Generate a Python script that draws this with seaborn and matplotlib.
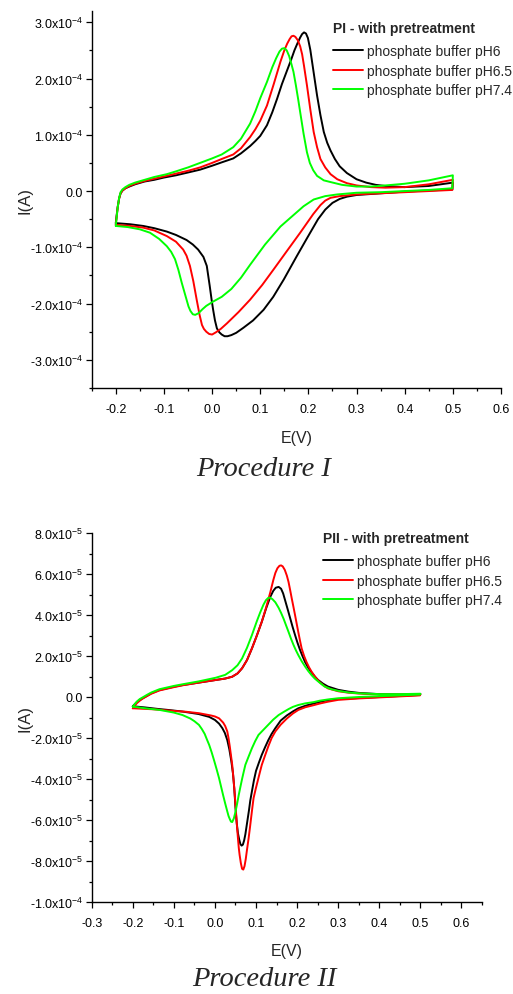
import numpy as np
import pandas as pd
import matplotlib
matplotlib.use("Agg")
import matplotlib.pyplot as plt
from matplotlib.ticker import FixedLocator, FixedFormatter, MultipleLocator
import seaborn as sns

# ---------------------------------------------------------------- data
BUFFERS = ["phosphate buffer pH6", "phosphate buffer pH6.5", "phosphate buffer pH7.4"]
COLORS = ["#000000", "#ff0000", "#00ff00"]

# Procedure I, current in units of 1e-4 A (forward scan -0.2 -> 0.5 V, then reverse)
p1_ph6_fwd_E = [-0.200, -0.198, -0.196, -0.193, -0.190, -0.186, -0.180, -0.172, -0.160, -0.140,
                -0.120, -0.100, -0.075, -0.050, -0.025, 0.000, 0.020, 0.044, 0.060, 0.079, 0.090,
                0.100, 0.114, 0.125, 0.135, 0.145, 0.156, 0.164, 0.171, 0.177, 0.183, 0.187, 0.191,
                0.195, 0.199, 0.204, 0.209, 0.214, 0.218, 0.225, 0.232, 0.239, 0.246, 0.255, 0.265,
                0.280, 0.300, 0.320, 0.340, 0.360, 0.400, 0.450, 0.500]
p1_ph6_fwd_I = [-0.57, -0.42, -0.28, -0.13, -0.04, 0.01, 0.05, 0.08, 0.12, 0.17,
                0.20, 0.24, 0.28, 0.33, 0.38, 0.45, 0.51, 0.58, 0.67, 0.80, 0.89,
                0.98, 1.17, 1.40, 1.64, 1.90, 2.15, 2.33, 2.50, 2.62, 2.73, 2.79, 2.82,
                2.80, 2.72, 2.51, 2.22, 1.93, 1.70, 1.35, 1.05, 0.86, 0.72, 0.57, 0.44,
                0.32, 0.21, 0.15, 0.11, 0.09, 0.07, 0.09, 0.15]
p1_ph6_rev_E = [0.499, 0.450, 0.400, 0.350, 0.300, 0.280, 0.265, 0.250, 0.235, 0.220, 0.197, 0.175,
                0.149, 0.127, 0.107, 0.085, 0.065, 0.050, 0.040, 0.032, 0.026, 0.020, 0.015, 0.010,
                0.006, 0.002, -0.001, -0.005, -0.011, -0.018, -0.029, -0.040, -0.053, -0.075, -0.094,
                -0.120, -0.143, -0.170, -0.200]
p1_ph6_rev_I = [0.03, 0.01, -0.01, -0.04, -0.07, -0.10, -0.14, -0.21, -0.33, -0.50, -0.84, -1.17,
                -1.57, -1.88, -2.11, -2.30, -2.43, -2.52, -2.56, -2.58, -2.58, -2.55, -2.51, -2.44,
                -2.30, -2.10, -1.93, -1.68, -1.33, -1.17, -1.04, -0.95, -0.87, -0.78, -0.72,
                -0.66, -0.62, -0.59, -0.57]

p1_ph65_fwd_E = [-0.200, -0.198, -0.196, -0.193, -0.190, -0.186, -0.180, -0.172, -0.160, -0.140,
                 -0.120, -0.100, -0.075, -0.050, -0.025, 0.000, 0.020, 0.044, 0.060, 0.079, 0.090,
                 0.100, 0.114, 0.128, 0.142, 0.150, 0.156, 0.161, 0.165, 0.169, 0.173, 0.178, 0.183,
                 0.187, 0.191, 0.197, 0.204, 0.211, 0.218, 0.225, 0.235, 0.246, 0.260, 0.280, 0.300,
                 0.330, 0.360, 0.400, 0.450, 0.500]
p1_ph65_fwd_I = [-0.60, -0.44, -0.29, -0.13, -0.04, 0.01, 0.05, 0.09, 0.13, 0.18,
                 0.22, 0.26, 0.31, 0.36, 0.42, 0.50, 0.57, 0.65, 0.76, 0.96, 1.10,
                 1.25, 1.52, 1.90, 2.30, 2.50, 2.62, 2.70, 2.75, 2.76, 2.74, 2.68, 2.57,
                 2.43, 2.22, 1.88, 1.45, 1.05, 0.78, 0.57, 0.42, 0.30, 0.21, 0.14, 0.10,
                 0.07, 0.06, 0.07, 0.12, 0.20]
p1_ph65_rev_E = [0.499, 0.450, 0.400, 0.350, 0.300, 0.265, 0.246, 0.235, 0.225, 0.210, 0.183, 0.155,
                 0.128, 0.104, 0.079, 0.055, 0.031, 0.018, 0.008, 0.000, -0.006, -0.012, -0.017,
                 -0.021, -0.026, -0.032, -0.039, -0.046, -0.053, -0.060, -0.075, -0.094, -0.120,
                 -0.143, -0.170, -0.200]
p1_ph65_rev_I = [0.02, 0.00, -0.02, -0.04, -0.06, -0.09, -0.12, -0.17, -0.25, -0.41, -0.74, -1.07,
                 -1.39, -1.67, -1.93, -2.15, -2.35, -2.45, -2.51, -2.55, -2.54, -2.50, -2.45,
                 -2.38, -2.20, -1.93, -1.60, -1.33, -1.15, -1.04, -0.90, -0.80, -0.70,
                 -0.65, -0.62, -0.60]

p1_ph74_fwd_E = [-0.200, -0.198, -0.196, -0.193, -0.190, -0.186, -0.180, -0.172, -0.160, -0.140,
                 -0.120, -0.094, -0.075, -0.050, -0.025, 0.000, 0.020, 0.044, 0.060, 0.079, 0.090,
                 0.100, 0.114, 0.125, 0.133, 0.140, 0.145, 0.150, 0.155, 0.160, 0.165, 0.169, 0.174,
                 0.179, 0.183, 0.190, 0.197, 0.203, 0.210, 0.218, 0.232, 0.246, 0.270, 0.300, 0.330,
                 0.360, 0.400, 0.450, 0.500]
p1_ph74_fwd_I = [-0.62, -0.45, -0.29, -0.12, -0.02, 0.03, 0.07, 0.11, 0.15, 0.20,
                 0.25, 0.30, 0.35, 0.42, 0.50, 0.58, 0.65, 0.78, 0.93, 1.20, 1.42,
                 1.65, 1.94, 2.20, 2.36, 2.48, 2.53, 2.54, 2.50, 2.40, 2.25, 2.12, 1.88,
                 1.62, 1.40, 1.02, 0.69, 0.50, 0.37, 0.27, 0.19, 0.16, 0.11, 0.08, 0.08,
                 0.10, 0.13, 0.19, 0.28]
p1_ph74_rev_E = [0.499, 0.450, 0.400, 0.350, 0.300, 0.260, 0.235, 0.211, 0.190, 0.170, 0.142, 0.110,
                 0.079, 0.060, 0.040, 0.020, 0.003, -0.012, -0.020, -0.028, -0.035, -0.040, -0.045,
                 -0.049, -0.055, -0.063, -0.070, -0.077, -0.085, -0.094, -0.110, -0.129, -0.150,
                 -0.175, -0.200]
p1_ph74_rev_I = [0.05, 0.02, 0.00, -0.02, -0.03, -0.06, -0.09, -0.15, -0.27, -0.42, -0.63, -0.95,
                 -1.31, -1.54, -1.74, -1.88, -1.96, -2.04, -2.10, -2.17, -2.20, -2.19, -2.13,
                 -2.05, -1.87, -1.63, -1.40, -1.21, -1.08, -0.98, -0.85, -0.74, -0.68,
                 -0.64, -0.62]

# Procedure II, current in units of 1e-5 A
p2_ph6_fwd_E = [-0.200, -0.195, -0.190, -0.183, -0.176, -0.165, -0.155, -0.135, -0.100, -0.079,
                -0.040, 0.002, 0.025, 0.042, 0.055, 0.066, 0.078, 0.090, 0.102, 0.114, 0.125, 0.135,
                0.142, 0.148, 0.155, 0.161, 0.166, 0.171, 0.177, 0.183, 0.189, 0.195, 0.201, 0.207,
                0.213, 0.219, 0.227, 0.235, 0.243, 0.251, 0.263, 0.275, 0.300, 0.325, 0.350, 0.400,
                0.450, 0.500]
p2_ph6_fwd_I = [-0.45, -0.35, -0.25, -0.14, -0.06, 0.06, 0.18, 0.34, 0.50, 0.58,
                0.70, 0.83, 0.90, 0.99, 1.15, 1.40, 1.80, 2.37, 3.00, 3.67, 4.35, 4.90,
                5.18, 5.33, 5.37, 5.28, 5.05, 4.70, 4.28, 3.85, 3.42, 3.02, 2.64, 2.30,
                2.00, 1.72, 1.43, 1.20, 1.00, 0.83, 0.65, 0.51, 0.35, 0.26, 0.20, 0.14,
                0.12, 0.14]
p2_ph6_rev_E = [0.499, 0.450, 0.400, 0.350, 0.300, 0.275, 0.255, 0.240, 0.220, 0.203, 0.190, 0.175,
                0.160, 0.147, 0.138, 0.130, 0.122, 0.114, 0.107, 0.100, 0.095, 0.090, 0.086, 0.083,
                0.080, 0.077, 0.074, 0.071, 0.068, 0.065, 0.062, 0.059, 0.056, 0.053, 0.050, 0.047,
                0.044, 0.040, 0.035, 0.030, 0.024, 0.018, 0.010, 0.000, -0.014, -0.040, -0.079,
                -0.110, -0.140, -0.170, -0.200]
p2_ph6_rev_I = [0.10, 0.05, 0.00, -0.05, -0.10, -0.15, -0.24, -0.32, -0.43, -0.55, -0.70, -0.90,
                -1.15, -1.52, -1.80, -2.10, -2.45, -2.82, -3.20, -3.60, -4.05, -4.60, -5.05, -5.50,
                -5.90, -6.30, -6.70, -7.00, -7.20, -7.25, -7.18, -6.95, -6.65, -6.15, -5.40, -4.45,
                -3.75, -3.15, -2.55, -2.10, -1.75, -1.52, -1.30, -1.12, -0.97, -0.83, -0.71,
                -0.64, -0.58, -0.51, -0.45]

p2_ph65_fwd_E = [-0.200, -0.195, -0.190, -0.183, -0.176, -0.165, -0.155, -0.135, -0.100, -0.079,
                 -0.040, 0.002, 0.025, 0.042, 0.055, 0.066, 0.078, 0.090, 0.102, 0.114, 0.125, 0.135,
                 0.142, 0.147, 0.152, 0.157, 0.161, 0.165, 0.170, 0.175, 0.179, 0.183, 0.187, 0.191,
                 0.195, 0.199, 0.203, 0.207, 0.211, 0.217, 0.223, 0.229, 0.235, 0.245, 0.255, 0.265,
                 0.275, 0.300, 0.325, 0.350, 0.400, 0.450, 0.500]
p2_ph65_fwd_I = [-0.55, -0.42, -0.30, -0.18, -0.08, 0.05, 0.16, 0.32, 0.48, 0.57,
                 0.70, 0.83, 0.90, 0.99, 1.15, 1.40, 1.80, 2.37, 3.00, 3.67, 4.40, 5.13,
                 5.70, 6.05, 6.28, 6.40, 6.42, 6.37, 6.20, 5.92, 5.62, 5.22, 4.80, 4.40,
                 3.99, 3.57, 3.15, 2.75, 2.37, 2.00, 1.70, 1.45, 1.24, 0.95, 0.72, 0.55,
                 0.42, 0.28, 0.21, 0.17, 0.12, 0.12, 0.14]
p2_ph65_rev_E = [0.499, 0.450, 0.400, 0.350, 0.300, 0.275, 0.255, 0.240, 0.220, 0.203, 0.190, 0.175,
                 0.160, 0.147, 0.138, 0.130, 0.122, 0.114, 0.109, 0.104, 0.099, 0.094, 0.091, 0.088,
                 0.085, 0.082, 0.078, 0.075, 0.072, 0.069, 0.066, 0.063, 0.060, 0.058, 0.056, 0.054,
                 0.052, 0.050, 0.048, 0.046, 0.044, 0.042, 0.039, 0.036, 0.033, 0.030, 0.025, 0.020,
                 0.010, 0.000, -0.010, -0.039, -0.070, -0.100, -0.150, -0.200]
p2_ph65_rev_I = [0.08, 0.03, -0.02, -0.07, -0.14, -0.23, -0.32, -0.40, -0.50, -0.63, -0.80, -1.05,
                 -1.35, -1.68, -2.00, -2.40, -2.85, -3.31, -3.70, -4.10, -4.50, -4.93, -5.40, -5.90,
                 -6.40, -6.88, -7.45, -7.90, -8.25, -8.42, -8.38, -8.10, -7.70, -7.36, -6.90, -6.40,
                 -5.85, -5.26, -4.70, -4.20, -3.75, -3.31, -2.85, -2.40, -2.00, -1.68, -1.42, -1.25,
                 -1.04, -0.95, -0.90, -0.79, -0.72, -0.68, -0.60, -0.55]

p2_ph74_fwd_E = [-0.200, -0.195, -0.190, -0.183, -0.176, -0.165, -0.155, -0.135, -0.100, -0.079,
                 -0.040, 0.002, 0.025, 0.042, 0.055, 0.066, 0.078, 0.090, 0.102, 0.110, 0.118, 0.124,
                 0.130, 0.135, 0.140, 0.147, 0.155, 0.161, 0.167, 0.173, 0.179, 0.185, 0.191, 0.197,
                 0.203, 0.211, 0.219, 0.227, 0.235, 0.243, 0.250, 0.258, 0.267, 0.283, 0.300, 0.325,
                 0.350, 0.400, 0.450, 0.500]
p2_ph74_fwd_I = [-0.47, -0.34, -0.22, -0.10, -0.02, 0.11, 0.22, 0.38, 0.54, 0.62,
                 0.76, 0.94, 1.08, 1.31, 1.55, 1.88, 2.40, 3.02, 3.70, 4.12, 4.50, 4.72,
                 4.84, 4.84, 4.77, 4.62, 4.35, 4.10, 3.82, 3.50, 3.18, 2.85, 2.55, 2.28,
                 2.04, 1.75, 1.50, 1.27, 1.07, 0.90, 0.78, 0.65, 0.51, 0.38, 0.30, 0.22,
                 0.18, 0.14, 0.14, 0.16]
p2_ph74_rev_E = [0.499, 0.450, 0.400, 0.350, 0.300, 0.275, 0.255, 0.240, 0.220, 0.203, 0.190, 0.180,
                 0.168, 0.155, 0.142, 0.130, 0.118, 0.106, 0.098, 0.090, 0.082, 0.074, 0.070, 0.066,
                 0.062, 0.058, 0.054, 0.050, 0.046, 0.042, 0.039, 0.036, 0.033, 0.030, 0.025, 0.020,
                 0.015, 0.010, 0.004, -0.002, -0.008, -0.014, -0.020, -0.025, -0.032, -0.039, -0.050,
                 -0.060, -0.079, -0.100, -0.135, -0.170, -0.200]
p2_ph74_rev_I = [0.12, 0.08, 0.04, 0.00, -0.06, -0.12, -0.18, -0.25, -0.31, -0.39, -0.48, -0.58,
                 -0.72, -0.88, -1.10, -1.35, -1.60, -1.85, -2.15, -2.50, -2.90, -3.31, -3.65, -4.00,
                 -4.38, -4.77, -5.20, -5.60, -5.92, -6.10, -6.08, -5.95, -5.80, -5.58, -5.20, -4.80,
                 -4.38, -3.96, -3.52, -3.10, -2.70, -2.34, -2.05, -1.80, -1.56, -1.36, -1.18,
                 -1.05, -0.88, -0.76, -0.63, -0.55, -0.47]

# axis ticks and labels
p1_xticks = [-0.2, -0.1, 0.0, 0.1, 0.2, 0.3, 0.4, 0.5, 0.6]
p1_xticklabels = ["-0.2", "-0.1", "0.0", "0.1", "0.2", "0.3", "0.4", "0.5", "0.6"]
p1_yticks = [-3e-4, -2e-4, -1e-4, 0.0, 1e-4, 2e-4, 3e-4]
p1_yticklabels = ["-3.0x10$^{-4}$", "-2.0x10$^{-4}$", "-1.0x10$^{-4}$", "0.0",
                  "1.0x10$^{-4}$", "2.0x10$^{-4}$", "3.0x10$^{-4}$"]

p2_xticks = [-0.3, -0.2, -0.1, 0.0, 0.1, 0.2, 0.3, 0.4, 0.5, 0.6]
p2_xticklabels = ["-0.3", "-0.2", "-0.1", "0.0", "0.1", "0.2", "0.3", "0.4", "0.5", "0.6"]
p2_yticks = [-1e-4, -8e-5, -6e-5, -4e-5, -2e-5, 0.0, 2e-5, 4e-5, 6e-5, 8e-5]
p2_yticklabels = ["-1.0x10$^{-4}$", "-8.0x10$^{-5}$", "-6.0x10$^{-5}$", "-4.0x10$^{-5}$",
                  "-2.0x10$^{-5}$", "0.0", "2.0x10$^{-5}$", "4.0x10$^{-5}$", "6.0x10$^{-5}$",
                  "8.0x10$^{-5}$"]

# ---------------------------------------------------------------- style
sns.set_style("ticks")
plt.rcParams["font.family"] = ["Liberation Sans", "DejaVu Sans"]
plt.rcParams["mathtext.fontset"] = "custom"
plt.rcParams["mathtext.rm"] = "Liberation Sans"
plt.rcParams["mathtext.it"] = "Liberation Sans:italic"
plt.rcParams["mathtext.bf"] = "Liberation Sans:bold"
plt.rcParams["axes.unicode_minus"] = False


def build_frame(curves, scale):
    rows = []
    for label, (fe, fi, re_, ri) in zip(BUFFERS, curves):
        E = list(fe) + list(re_)
        I = [v * scale for v in list(fi) + list(ri)]
        for k, (e, i) in enumerate(zip(E, I)):
            rows.append({"E": e, "I": i, "buffer": label, "step": k})
    return pd.DataFrame(rows)


df1 = build_frame([(p1_ph6_fwd_E, p1_ph6_fwd_I, p1_ph6_rev_E, p1_ph6_rev_I),
                   (p1_ph65_fwd_E, p1_ph65_fwd_I, p1_ph65_rev_E, p1_ph65_rev_I),
                   (p1_ph74_fwd_E, p1_ph74_fwd_I, p1_ph74_rev_E, p1_ph74_rev_I)], 1e-4)
df2 = build_frame([(p2_ph6_fwd_E, p2_ph6_fwd_I, p2_ph6_rev_E, p2_ph6_rev_I),
                   (p2_ph65_fwd_E, p2_ph65_fwd_I, p2_ph65_rev_E, p2_ph65_rev_I),
                   (p2_ph74_fwd_E, p2_ph74_fwd_I, p2_ph74_rev_E, p2_ph74_rev_I)], 1e-5)

W, H = 513, 995
fig = plt.figure(figsize=(W / 100, H / 100), dpi=100)


def px_axes(left, top, right, bottom):
    return fig.add_axes([left / W, 1 - bottom / H, (right - left) / W, (bottom - top) / H])


ax1 = px_axes(91.7, 12, 501, 389)
ax2 = px_axes(91.7, 534, 482, 903)


def draw_panel(ax, df, xlim, ylim, xt, xtl, yt, ytl, xminor, yminor, title, leg_xy, ylab_x):
    sns.lineplot(data=df, x="E", y="I", hue="buffer", hue_order=BUFFERS, palette=COLORS,
                 sort=False, estimator=None, linewidth=1.4, ax=ax)
    ax.set_xlim(*xlim)
    ax.set_ylim(*ylim)
    ax.xaxis.set_major_locator(FixedLocator(xt))
    ax.xaxis.set_major_formatter(FixedFormatter(xtl))
    ax.yaxis.set_major_locator(FixedLocator(yt))
    ax.yaxis.set_major_formatter(FixedFormatter(ytl))
    ax.xaxis.set_minor_locator(MultipleLocator(xminor))
    ax.yaxis.set_minor_locator(MultipleLocator(yminor))
    ax.tick_params(which="major", direction="out", length=4, width=0.9, labelsize=9,
                   color="black", labelcolor="black")
    ax.tick_params(which="minor", direction="out", length=2.2, width=0.9, color="black")
    ax.tick_params(axis="x", which="major", pad=6.5)
    ax.tick_params(axis="y", which="major", pad=2)
    for s in ("left", "bottom"):
        ax.spines[s].set_linewidth(1.0)
        ax.spines[s].set_color("black")
    sns.despine(ax=ax)
    ax.set_xlabel("E(V)", fontsize=11.5)
    ax.set_ylabel("I(A)", fontsize=12)
    ax.xaxis.set_label_coords(0.5, -0.112)
    ax.yaxis.set_label_coords(ylab_x, 0.5)

    old = ax.get_legend()
    handles = old.legend_handles
    labels = [t.get_text() for t in old.get_texts()]
    old.remove()
    leg = ax.legend(handles, labels, title=title, loc="upper left",
                    bbox_to_anchor=(leg_xy[0] / W, 1 - leg_xy[1] / H),
                    bbox_transform=fig.transFigure,
                    frameon=False, alignment="left", fontsize=10,
                    title_fontproperties={"weight": "bold", "size": 10},
                    handlelength=2.15, handletextpad=0.3, labelspacing=0.40, borderpad=0,
                    borderaxespad=0)
    # a little more room between the bold title and the first entry
    leg._legend_box.sep = 6.5


draw_panel(ax1, df1, (-0.25, 0.6), (-3.5e-4, 3.2e-4), p1_xticks, p1_xticklabels,
           p1_yticks, p1_yticklabels, 0.05, 0.5e-4, "PI - with pretreatment", (333, 22), -0.144)
draw_panel(ax2, df2, (-0.3, 0.65), (-1e-4, 8e-5), p2_xticks, p2_xticklabels,
           p2_yticks, p2_yticklabels, 0.05, 1e-5, "PII - with pretreatment", (323, 532), -0.151)

fig.text(264 / W, 1 - 470 / H, "Procedure I", family=["Liberation Serif", "DejaVu Serif"],
         style="italic", fontsize=20.5, ha="center", va="center")
fig.text(264 / W, 1 - 980 / H, "Procedure II", family=["Liberation Serif", "DejaVu Serif"],
         style="italic", fontsize=20.5, ha="center", va="center")

fig.savefig("out.png", dpi=100)
